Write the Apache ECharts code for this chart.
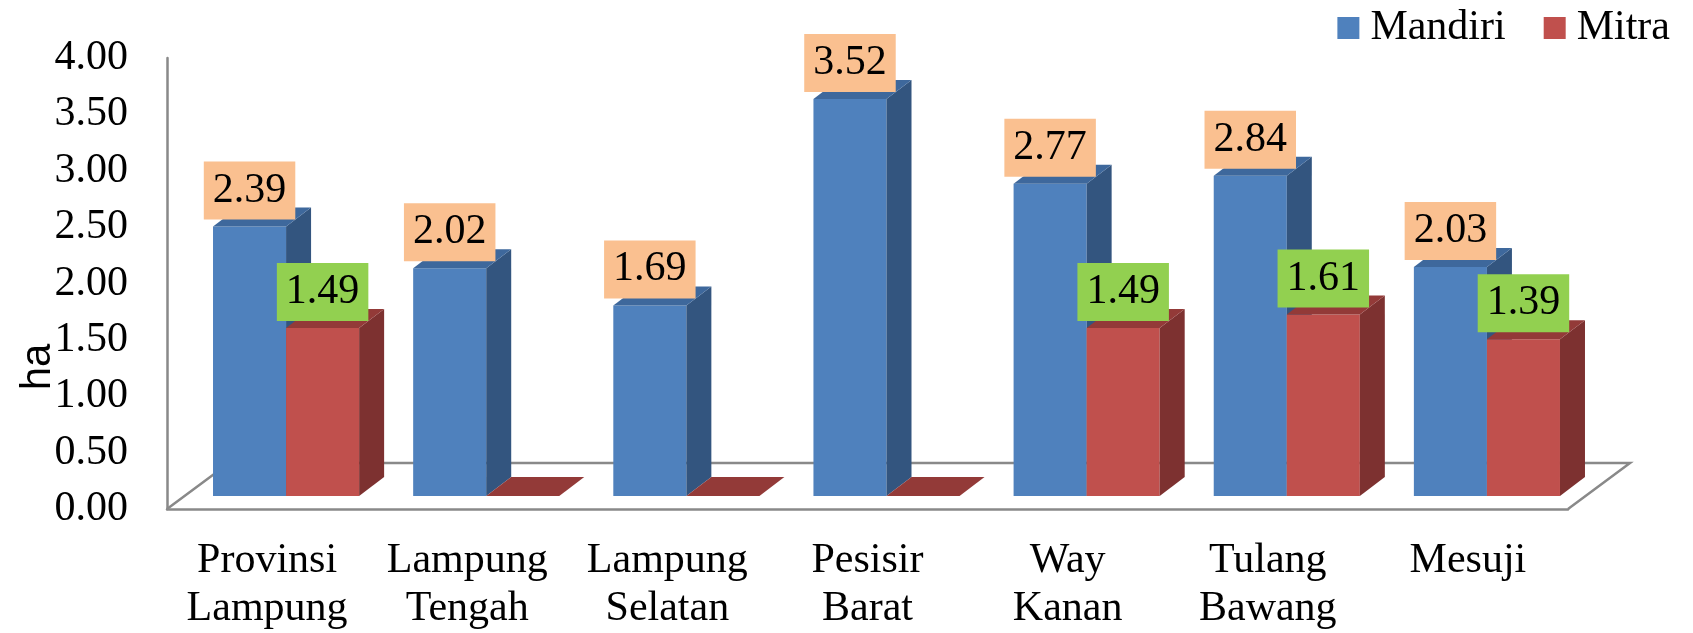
<!DOCTYPE html>
<html>
<head>
<meta charset="utf-8">
<script src="https://cdn.jsdelivr.net/npm/echarts@6/dist/echarts.min.js"></script>
<style>
  html, body { margin: 0; padding: 0; background: #fff; }
  #chart { width: 1693px; height: 633px; }
</style>
</head>
<body>
<div id="chart"></div>
<script>
const categories = ['Provinsi\nLampung', 'Lampung\nTengah', 'Lampung\nSelatan', 'Pesisir\nBarat', 'Way\nKanan', 'Tulang\nBawang', 'Mesuji'];
const mandiri = [2.39, 2.02, 1.69, 3.52, 2.77, 2.84, 2.03];
const mitra = [1.49, 0, 0, 0, 1.49, 1.61, 1.39];
const yTicks = [0, 4, 0.5]; // min, max, interval

const serif = 'Liberation Serif, Times New Roman, serif';
const DX = 25, DY = 19;      // depth of the 3d boxes
const FLOOR_DX = 62, FLOOR_DY = 46;
const SHIFT_X = 19, SHIFT_Y = 13;

const colors = {
    Mandiri: { front: '#4F81BD', side: '#33557F', top: '#3E689C', label: '#FAC090' },
    Mitra: { front: '#C0504D', side: '#7D3130', top: '#933A38', label: '#92D050' }
};

function barRender(name, left) {
    const c = colors[name];
    return function (params, api) {
        const cat = api.value(0), v = api.value(1);
        const base = api.coord([cat, 0]);
        const top = api.coord([cat, v]);
        const bw = api.size([1, 0])[0] * 0.365;
        const x0 = left ? base[0] + SHIFT_X - bw : base[0] + SHIFT_X;
        const x1 = x0 + bw;
        const yb = base[1] - SHIFT_Y;
        const yt = top[1] - SHIFT_Y;
        const children = [];
        if (v > 0) {
            children.push({
                type: 'rect',
                shape: { x: x0, y: yt, width: bw, height: yb - yt },
                style: { fill: c.front }
            });
            children.push({
                type: 'polygon',
                shape: { points: [[x1, yb], [x1 + DX, yb - DY], [x1 + DX, yt - DY], [x1, yt]] },
                style: { fill: c.side }
            });
        }
        children.push({
            type: 'polygon',
            shape: { points: [[x0, yt], [x1, yt], [x1 + DX, yt - DY], [x0 + DX, yt - DY]] },
            style: { fill: c.top }
        });
        if (v > 0) {
            children.push({
                type: 'text',
                z2: 10,
                style: {
                    text: v.toFixed(2),
                    x: x0 + bw / 2,
                    y: yt - 7,
                    align: 'center',
                    verticalAlign: 'bottom',
                    fontSize: 42,
                    fontFamily: serif,
                    fill: '#000',
                    backgroundColor: c.label,
                    padding: [5, 9],
                    lineHeight: 48
                }
            });
        }
        return { type: 'group', children: children };
    };
}

const chart = echarts.init(document.getElementById('chart'));

chart.setOption({
    animation: false,
    legend: {
        data: ['Mandiri', 'Mitra'],
        right: 18,
        top: 2,
        icon: 'rect',
        itemWidth: 22,
        itemHeight: 22,
        itemGap: 38,
        textStyle: { fontSize: 42, fontFamily: serif, color: '#000', padding: [0, 0, 0, 6] }
    },
    grid: { left: 167, right: 125, top: 58, bottom: 122 },
    xAxis: {
        type: 'category',
        data: categories,
        axisLine: { lineStyle: { color: '#898989', width: 2.5 } },
        axisTick: { show: false },
        axisLabel: {
            interval: 0,
            margin: 28,
            fontSize: 42,
            lineHeight: 48,
            fontFamily: serif,
            color: '#000'
        }
    },
    yAxis: {
        type: 'value',
        min: yTicks[0],
        max: yTicks[1],
        interval: yTicks[2],
        axisLine: { show: true, lineStyle: { color: '#898989', width: 2.5 } },
        axisTick: { show: false },
        splitLine: { show: false },
        axisLabel: {
            margin: 39,
            fontSize: 42,
            fontFamily: serif,
            color: '#000',
            formatter: v => v.toFixed(2)
        }
    },
    graphic: [{
        type: 'text',
        x: 38,
        y: 367,
        rotation: Math.PI / 2,
        style: {
            text: 'ha',
            fontSize: 42,
            fontFamily: 'Liberation Sans, Arial, sans-serif',
            fill: '#000',
            align: 'center',
            verticalAlign: 'middle'
        }
    }],
    series: [
        {
            type: 'custom',
            name: 'floor',
            silent: true,
            z: 1,
            data: [[0, 0]],
            renderItem: function (params, api) {
                const cs = params.coordSys;
                const fl = [cs.x, cs.y + cs.height];
                const fr = [cs.x + cs.width, cs.y + cs.height];
                const br = [fr[0] + FLOOR_DX, fr[1] - FLOOR_DY];
                const bl = [fl[0] + FLOOR_DX, fl[1] - FLOOR_DY];
                return {
                    type: 'polyline',
                    shape: { points: [fl, bl, br, fr] },
                    style: { stroke: '#898989', lineWidth: 2.5, fill: null }
                };
            }
        },
        {
            type: 'custom',
            name: 'Mandiri',
            z: 2,
            itemStyle: { color: colors.Mandiri.front },
            data: mandiri.map((v, i) => [i, v]),
            renderItem: barRender('Mandiri', true)
        },
        {
            type: 'custom',
            name: 'Mitra',
            z: 3,
            itemStyle: { color: colors.Mitra.front },
            data: mitra.map((v, i) => [i, v]),
            renderItem: barRender('Mitra', false)
        }
    ]
});
</script>
</body>
</html>
